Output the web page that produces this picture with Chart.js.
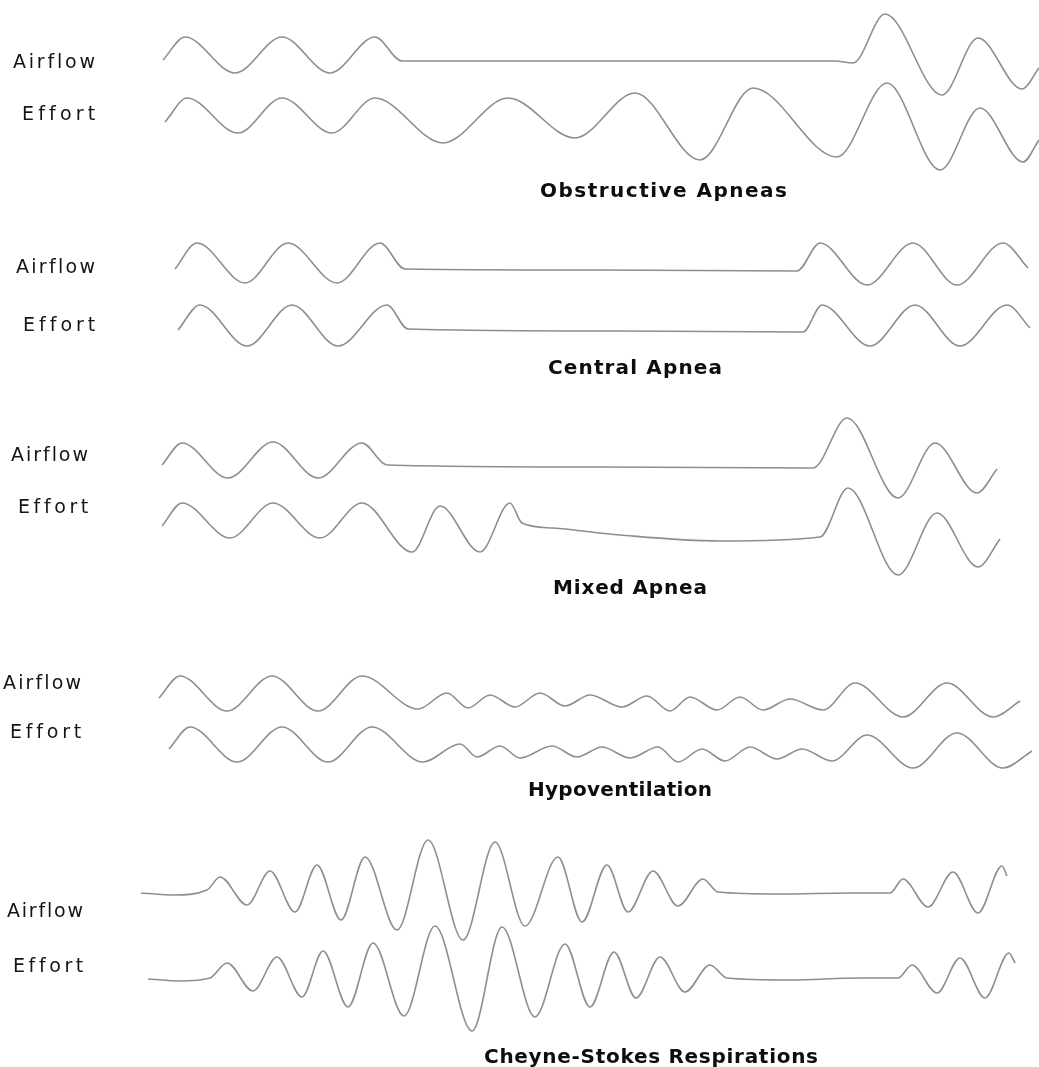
<!DOCTYPE html>
<html>
<head>
<meta charset="utf-8">
<script src="https://cdn.jsdelivr.net/npm/chart.js@4/dist/chart.umd.min.js"></script>
<style>
  html, body { margin: 0; padding: 0; background: #ffffff; }
  #wrap { width: 1039px; height: 1067px; position: relative; }
</style>
</head>
<body>
<div id="wrap"><canvas id="c"></canvas></div>
<script>
// ---- Data: time positions (T) and signal amplitude (V, positive = up) for each trace ----
const obstructiveAirflowT = [163,185,235,282,330,375,402,620,835,853,885,942,978,1022,1039];
const obstructiveAirflowV = [1,24,-12,24,-12,24,0,0,0,-2,47,-34,23,-28,-7];
const obstructiveEffortT  = [165,187,238,282,332,375,443,508,575,635,700,753,837,887,940,980,1023,1039];
const obstructiveEffortV  = [-7,17,-18,17,-18,17,-28,17,-23,22,-45,27,-42,32,-55,7,-47,-25];

const centralAirflowT = [175,197,245,288,337,380,405,600,797,820,867,913,957,1003,1028];
const centralAirflowV = [0,26,-14,26,-14,26,0,-1,-2,26,-16,26,-16,26,1];
const centralEffortT  = [178,200,247,292,338,387,408,620,803,822,870,915,960,1007,1030];
const centralEffortV  = [0,25,-16,25,-16,25,1,-1,-2,25,-16,25,-16,25,2];

const mixedAirflowT = [162,182,228,273,318,362,387,600,813,847,898,935,977,997];
const mixedAirflowV = [0,22,-13,23,-13,22,0,-2,-3,47,-33,22,-28,-4];
const mixedEffortT  = [162,182,230,273,320,362,412,440,480,510,522,553,620,720,820,848,898,937,978,1000];
const mixedEffortV  = [-6,17,-18,17,-18,17,-32,14,-32,17,-3,-8,-15,-21,-17,32,-55,7,-47,-19];

const hypoAirflowT = [159,180,227,272,318,362,418,447,468,490,515,540,565,590,622,647,670,690,717,740,763,790,823,855,903,947,993,1020];
const hypoAirflowV = [2,24,-11,24,-11,24,-9,7,-8,5,-7,7,-6,5,-7,4,-11,3,-10,3,-10,1,-10,17,-17,17,-17,-1];
const hypoEffortT  = [169,190,237,282,328,372,423,460,477,500,520,552,577,602,630,658,678,702,725,750,777,802,832,867,913,957,1003,1032];
const hypoEffortV  = [1,23,-12,23,-12,23,-12,6,-7,4,-8,4,-7,3,-8,3,-12,1,-11,3,-9,1,-11,15,-18,17,-18,-1];

const csAirflowT = [141,173,207,220,247,270,295,317,341,365,397,428,463,495,525,558,582,607,628,653,678,703,718,780,850,890,903,928,953,978,1002,1007];
const csAirflowV = [0,-2,3,16,-12,22,-19,28,-27,36,-37,53,-47,51,-33,36,-29,28,-19,22,-13,14,1,-1,0,0,14,-14,21,-20,27,17];
const csEffortT  = [148,180,210,227,253,277,302,323,348,373,404,435,472,502,535,565,590,614,636,660,685,710,727,790,860,898,912,937,960,985,1009,1015];
const csEffortV  = [0,-2,1,16,-12,22,-18,28,-28,36,-37,53,-52,52,-38,35,-28,27,-19,22,-13,14,1,-1,1,1,14,-14,21,-19,26,16];

const channelNames = ["Airflow", "Effort"];
const panelTitles = ["Obstructive Apneas", "Central Apnea", "Mixed Apnea", "Hypoventilation", "Cheyne-Stokes Respirations"];

// ---- Layout (positions in chart units; the y scale is reversed) ----
const tracks = [
  { t: obstructiveAirflowT, v: obstructiveAirflowV, base: 61 },
  { t: obstructiveEffortT,  v: obstructiveEffortV,  base: 115 },
  { t: centralAirflowT,     v: centralAirflowV,     base: 269 },
  { t: centralEffortT,      v: centralEffortV,      base: 330 },
  { t: mixedAirflowT,       v: mixedAirflowV,       base: 465 },
  { t: mixedEffortT,        v: mixedEffortV,        base: 520 },
  { t: hypoAirflowT,        v: hypoAirflowV,        base: 700 },
  { t: hypoEffortT,         v: hypoEffortV,         base: 750 },
  { t: csAirflowT,          v: csAirflowV,          base: 893 },
  { t: csEffortT,           v: csEffortV,           base: 979 }
];
// channel label boxes: [left, right, baseline]
const labelBoxes = [
  [13, 95, 68], [22, 95, 120],
  [16, 95, 273], [23, 95, 331],
  [11, 88, 461], [18, 88, 513],
  [3, 81, 689], [10, 81, 738],
  [7, 83, 917], [13, 83, 972]
];
// title boxes: [left, right, baseline]
const titleBoxes = [
  [540, 787, 197],
  [548, 722, 374],
  [553, 707, 594],
  [528, 712, 796],
  [484, 818, 1063]
];

const LINE_COLOR = '#8e8e8e';

const datasets = tracks.map((tr, i) => ({
  label: channelNames[i % 2] + ' ' + (Math.floor(i / 2) + 1),
  data: tr.t.map((x, k) => ({ x: x, y: tr.base - tr.v[k] })),
  borderColor: LINE_COLOR,
  borderWidth: 1.6,
  pointRadius: 0,
  fill: false,
  cubicInterpolationMode: 'monotone'
}));

function drawFitted(ctx, text, x0, x1, baseline, font, color) {
  ctx.save();
  ctx.font = font;
  ctx.letterSpacing = '0px';
  const w = ctx.measureText(text).width;
  const n = text.length;
  const ls = n > 1 ? (x1 - x0 - w) / (n - 1) : 0;
  ctx.letterSpacing = ls + 'px';
  ctx.fillStyle = color;
  ctx.textAlign = 'left';
  ctx.textBaseline = 'alphabetic';
  ctx.fillText(text, x0, baseline);
  ctx.restore();
}

const textPlugin = {
  id: 'panelText',
  afterDatasetsDraw(chart) {
    const ctx = chart.ctx;
    const xs = chart.scales.x, ys = chart.scales.y;
    labelBoxes.forEach((b, i) => {
      drawFitted(ctx, channelNames[i % 2],
        xs.getPixelForValue(b[0]), xs.getPixelForValue(b[1]), ys.getPixelForValue(b[2]),
        '19px "DejaVu Sans"', '#151515');
    });
    titleBoxes.forEach((b, i) => {
      drawFitted(ctx, panelTitles[i],
        xs.getPixelForValue(b[0]), xs.getPixelForValue(b[1]), ys.getPixelForValue(b[2]),
        'bold 20px "DejaVu Sans"', '#0d0d0d');
    });
  }
};

new Chart(document.getElementById('c'), {
  type: 'line',
  data: { datasets: datasets },
  options: {
    responsive: true,
    maintainAspectRatio: false,
    animation: false,
    layout: { padding: 0 },
    plugins: { legend: { display: false }, tooltip: { enabled: false }, title: { display: false } },
    scales: {
      x: { type: 'linear', min: 0, max: 1039, display: false },
      y: { type: 'linear', min: 0, max: 1067, reverse: true, display: false }
    }
  },
  plugins: [textPlugin]
});
</script>
</body>
</html>
